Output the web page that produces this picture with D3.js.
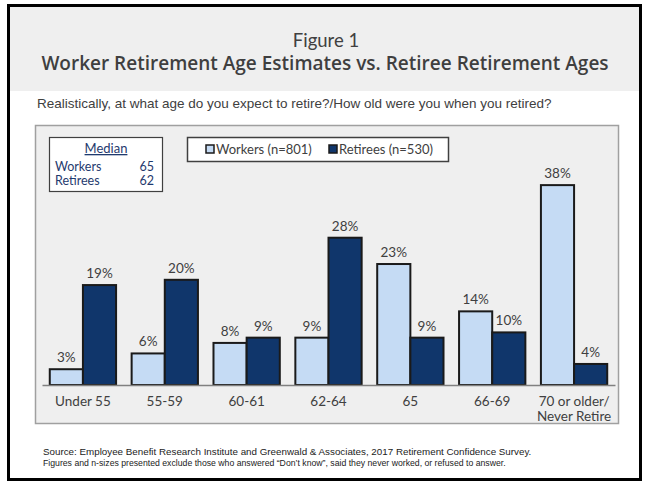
<!DOCTYPE html>
<html>
<head>
<meta charset="utf-8">
<script src="https://cdn.jsdelivr.net/npm/d3@7"></script>
<style>
  html, body { margin: 0; padding: 0; background: #fff; }
  svg { display: block; }
</style>
</head>
<body>
<svg id="chart" width="653" height="487"></svg>
<script>
// ---- Data ----
const categories = ["Under 55", "55-59", "60-61", "62-64", "65", "66-69", "70 or older/\nNever Retire"];
const seriesNames = ["Workers (n=801)", "Retirees (n=530)"];
const workers = [3, 6, 8, 9, 23, 14, 38];
const retirees = [19, 20, 9, 28, 9, 10, 4];
const medianLabels = ["Workers", "Retirees"];
const medianValues = [65, 62];

const figureLabel = "Figure 1";
const title = "Worker Retirement Age Estimates vs. Retiree Retirement Ages";
const subtitle = "Realistically, at what age do you expect to retire?/How old were you when you retired?";
const source1 = "Source:  Employee Benefit Research Institute and Greenwald & Associates, 2017 Retirement Confidence Survey.";
const source2 = "Figures and n-sizes presented exclude those who answered \u201cDon\u2019t know\u201d, said they never worked, or refused to answer.";

const colors = ["#c5dbf4", "#10366b"];
const textGrey = "#404040";
const navy = "#1f3a6e";

const svg = d3.select("#chart");

// Outer frame
svg.append("rect").attr("x", 8.5).attr("y", 5.5).attr("width", 632).attr("height", 474)
  .attr("fill", "#fff").attr("stroke", "#000").attr("stroke-width", 3);
// Header band
svg.append("rect").attr("x", 10).attr("y", 7).attr("width", 629).attr("height", 84).attr("fill", "#efefef");

svg.append("text").attr("x", 326).attr("y", 47).attr("text-anchor", "middle")
  .attr("font-family", "Lato").attr("font-size", 18.5).attr("fill", textGrey).text(figureLabel);
svg.append("text").attr("x", 325).attr("y", 70).attr("text-anchor", "middle")
  .attr("font-family", "Open Sans").attr("font-weight", 600).attr("font-size", 19)
  .attr("fill", "#3f3f3f").text(title);
svg.append("text").attr("x", 37).attr("y", 108)
  .attr("font-family", "Liberation Sans").attr("font-size", 13.5).attr("fill", textGrey).text(subtitle);

// Chart panel
svg.append("rect").attr("x", 35.5).attr("y", 125.5).attr("width", 583).attr("height", 298)
  .attr("fill", "#efefef").attr("stroke", "#a0a0a0").attr("stroke-width", 1.5);

// Scales
const x0 = d3.scaleBand().domain(categories).range([42, 615]).paddingInner(0.19).paddingOuter(0.095);
const x1 = d3.scaleBand().domain(seriesNames).range([0, x0.bandwidth()]);
const y = d3.scaleLinear().domain([0, 40]).range([385, 174.6]);

const data = categories.map((c, i) => ({ cat: c, vals: [workers[i], retirees[i]] }));

const groups = svg.append("g").selectAll("g").data(data).join("g")
  .attr("transform", d => `translate(${x0(d.cat)},0)`);

groups.selectAll("rect").data(d => d.vals.map((v, j) => ({ v, s: seriesNames[j], j })))
  .join("rect")
  .attr("x", d => x1(d.s)).attr("y", d => y(d.v))
  .attr("width", x1.bandwidth()).attr("height", d => y(0) - y(d.v))
  .attr("fill", d => colors[d.j]).attr("stroke", "#1a1a1a").attr("stroke-width", 2);

groups.selectAll("text.val").data(d => d.vals.map((v, j) => ({ v, s: seriesNames[j] })))
  .join("text").attr("class", "val")
  .attr("x", d => x1(d.s) + x1.bandwidth() / 2).attr("y", d => y(d.v) - 7)
  .attr("text-anchor", "middle").attr("font-family", "Lato").attr("font-size", 13.5)
  .attr("fill", textGrey).text(d => d.v + "%");

// X axis
const xAxis = d3.axisBottom(x0).tickSize(0).tickSizeOuter(0).tickFormat("");
const axisG = svg.append("g").attr("transform", `translate(0,${y(0)})`).call(xAxis);
axisG.select(".domain").attr("stroke", "#808080").attr("stroke-width", 1.5);
axisG.selectAll(".tick").each(function(d) {
  const lines = d.split("\n");
  const t = d3.select(this).append("text").attr("fill", textGrey).attr("font-family", "Lato")
    .attr("font-size", 13.5).attr("text-anchor", "middle");
  lines.forEach((ln, i) => t.append("tspan").attr("x", 0).attr("y", 21 + i * 15).text(ln));
});

// Legend
const lg = svg.append("g");
lg.append("rect").attr("x", 187.5).attr("y", 137.5).attr("width", 261).attr("height", 24)
  .attr("fill", "#fff").attr("stroke", "#404040").attr("stroke-width", 1.5);
const legendX = [206, 329];
seriesNames.forEach((s, i) => {
  lg.append("rect").attr("x", legendX[i]).attr("y", 145).attr("width", 8).attr("height", 8)
    .attr("fill", colors[i]).attr("stroke", "#1a1a1a").attr("stroke-width", 1.5);
  lg.append("text").attr("x", legendX[i] + 10).attr("y", 154).attr("font-family", "Lato")
    .attr("font-size", 13).attr("fill", textGrey).text(s);
});

// Median box
const mb = svg.append("g");
mb.append("rect").attr("x", 49.5).attr("y", 137.5).attr("width", 113).attr("height", 54)
  .attr("fill", "#fff").attr("stroke", "#404040").attr("stroke-width", 1.2);
mb.append("text").attr("x", 106).attr("y", 153).attr("text-anchor", "middle")
  .attr("font-family", "Lato").attr("font-size", 13).attr("fill", navy)
  .attr("text-decoration", "underline").text("Median");
medianLabels.forEach((m, i) => {
  mb.append("text").attr("x", 55).attr("y", 170.5 + i * 14).attr("font-family", "Lato")
    .attr("font-size", 12.5).attr("fill", navy).text(m);
  mb.append("text").attr("x", 154).attr("y", 170.5 + i * 14).attr("text-anchor", "end")
    .attr("font-family", "Lato").attr("font-size", 12.5).attr("fill", navy).text(medianValues[i]);
});

// Source
svg.append("text").attr("x", 43).attr("y", 455).attr("font-family", "Liberation Sans")
  .attr("font-size", 9.8).attr("fill", "#222").text(source1);
svg.append("text").attr("x", 43).attr("y", 466).attr("font-family", "Liberation Sans")
  .attr("font-size", 8.7).attr("fill", "#222").text(source2);
</script>
</body>
</html>
